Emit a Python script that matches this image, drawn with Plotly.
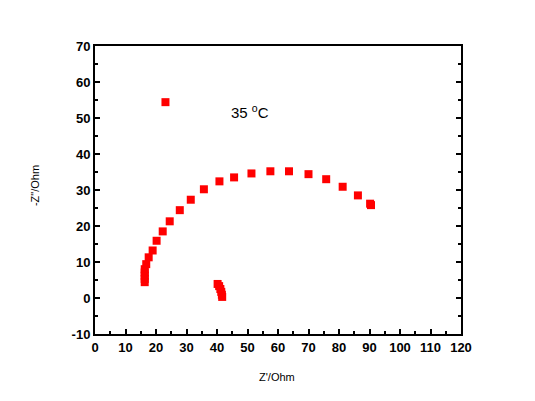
import plotly.graph_objects as go

# Nyquist data at 35 C
z_real = [16.3, 16.3, 16.3, 16.3, 16.3, 16.8, 17.6, 18.9, 20.2, 22.2, 24.5, 27.8,
          31.4, 35.7, 40.8, 45.6, 51.3, 57.5, 63.6, 70.0, 75.8, 81.2, 86.2, 90.2, 90.5]
z_imag = [4.4, 5.3, 6.2, 7.1, 8.0, 9.4, 11.3, 13.2, 15.9, 18.5, 21.3, 24.4,
          27.3, 30.2, 32.4, 33.5, 34.6, 35.2, 35.2, 34.4, 33.0, 30.9, 28.5, 26.2, 25.8]

tail_real = [40.2, 40.7, 41.1, 41.4, 41.6, 41.7]
tail_imag = [3.9, 3.3, 2.5, 1.7, 0.9, 0.3]

stray_real = [23.1]
stray_imag = [54.4]

y_ticks = [-10, 0, 10, 20, 30, 40, 50, 60, 70]
y_labels = ["-10", "0", "10", "20", "30", "40", "50", "60", "70"]

RED = "#FF0000"
FONT = "Liberation Sans, Arial, sans-serif"

fig = go.Figure()
for xs, ys in [(z_real, z_imag), (tail_real, tail_imag), (stray_real, stray_imag)]:
    fig.add_trace(go.Scatter(
        x=xs, y=ys, mode="markers",
        marker=dict(symbol="square", size=8, color=RED, line=dict(width=0)),
        showlegend=False,
    ))

fig.add_annotation(
    x=44.0, y=51.7, xref="x", yref="y", xanchor="left", yanchor="middle",
    text="35 <sup>o</sup>C", showarrow=False,
    font=dict(family=FONT, size=15, color="black"),
)

# axis titles placed by hand so the plot area keeps its margins
fig.add_annotation(
    x=0.497, y=-0.149, xref="paper", yref="paper", xanchor="center", yanchor="middle",
    text="Z'/Ohm", showarrow=False, font=dict(family=FONT, size=11, color="black"),
)
fig.add_annotation(
    x=-0.164, y=0.517, xref="paper", yref="paper", xanchor="center", yanchor="middle",
    text='-Z"/Ohm', textangle=-90, showarrow=False,
    font=dict(family=FONT, size=11, color="black"),
)

axis_common = dict(
    showgrid=False, zeroline=False, automargin=False,
    showline=True, linecolor="black", linewidth=2,
    ticks="inside", ticklen=5, tickwidth=2, tickcolor="black",
    tickfont=dict(family=FONT, size=13, color="black", weight="bold"),
    minor=dict(ticks="inside", ticklen=3, tickwidth=2, tickcolor="black", dtick=5),
)

fig.update_xaxes(**axis_common, range=[0, 120], dtick=10, tick0=0, mirror=True)
fig.update_yaxes(**axis_common, range=[-10, 70], tickvals=y_ticks, ticktext=y_labels,
                 mirror="ticks")

# the page adds an 8px body margin, so the figure margins are trimmed to match
fig.update_layout(
    width=535, height=401,
    margin=dict(l=87, r=82, t=38, b=75),
    paper_bgcolor="white", plot_bgcolor="white",
)

fig.write_html("out.html")
